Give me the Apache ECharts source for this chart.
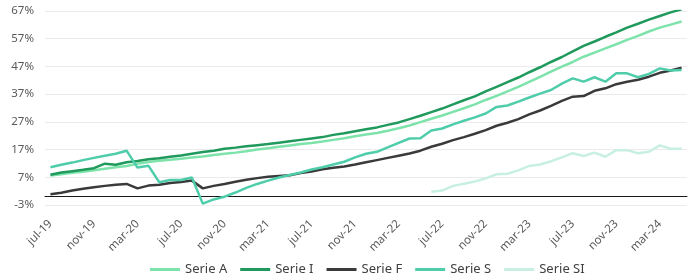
<!DOCTYPE html>
<html>
<head>
<meta charset="utf-8">
<script src="https://cdn.jsdelivr.net/npm/echarts@6/dist/echarts.min.js"></script>
<style>
html, body { margin: 0; padding: 0; background: #fff; }
#chart { width: 691px; height: 276px; }
</style>
</head>
<body>
<div id="chart"></div>
<script>
// monthly categories jul-19 .. may-24
const months = ['ene', 'feb', 'mar', 'abr', 'may', 'jun', 'jul', 'ago', 'sep', 'oct', 'nov', 'dic'];
const categories = [];
for (let y = 19; y <= 24; y++) {
    for (let m = 0; m < 12; m++) {
        if (y === 19 && m < 6) continue;
        if (y === 24 && m > 4) continue;
        categories.push(months[m] + '-' + y);
    }
}

const yTicks = [-3, 7, 17, 27, 37, 47, 57, 67];

const serieA = [7.6, 8.1, 8.6, 9.0, 9.5, 10.1, 10.6, 11.1, 11.9, 12.5, 13.0, 13.3, 13.7, 14.1, 14.5,
    15.0, 15.5, 15.9, 16.4, 17.0, 17.5, 18.0, 18.5, 19.0, 19.4, 19.9, 20.5, 21.1, 21.8, 22.4,
    23.0, 23.8, 24.7, 25.7, 26.9, 28.1, 29.3, 30.6, 31.9, 33.3, 34.9, 36.4, 38.0, 39.6, 41.4,
    43.2, 45.1, 46.9, 48.6, 50.5, 52.0, 53.5, 55.0, 56.6, 58.0, 59.6, 61.0, 62.1, 63.2];

const serieI = [7.9, 8.7, 9.2, 9.7, 10.3, 11.9, 11.5, 12.4, 12.9, 13.5, 13.9, 14.4, 14.9, 15.5, 16.1,
    16.6, 17.3, 17.7, 18.2, 18.6, 19.0, 19.5, 20.0, 20.5, 21.0, 21.5, 22.3, 22.9, 23.6, 24.3,
    25.0, 25.9, 26.8, 28.0, 29.2, 30.5, 31.8, 33.3, 34.8, 36.2, 38.0, 39.6, 41.3, 43.0, 44.9,
    46.7, 48.6, 50.4, 52.4, 54.4, 56.0, 57.7, 59.3, 61.0, 62.4, 63.9, 65.2, 66.5, 67.6];

const serieF = [0.9, 1.4, 2.2, 2.9, 3.4, 3.9, 4.3, 4.6, 3.0, 4.0, 4.3, 4.9, 5.3, 5.8, 3.0,
    3.9, 4.6, 5.4, 6.1, 6.7, 7.2, 7.5, 7.7, 8.5, 9.1, 9.9, 10.4, 10.9, 11.6, 12.4,
    13.2, 14.0, 14.8, 15.6, 16.6, 18.0, 19.1, 20.4, 21.5, 22.7, 24.0, 25.6, 26.7, 28.0, 29.7,
    31.1, 32.8, 34.6, 36.1, 36.3, 38.2, 39.1, 40.6, 41.5, 42.2, 43.3, 44.7, 45.5, 46.5];

const serieS = [10.6, 11.5, 12.3, 13.2, 14.0, 14.8, 15.5, 16.6, 10.5, 11.2, 5.2, 6.0, 6.0, 6.9, -2.5,
    -1.0, 0.0, 1.5, 3.2, 4.6, 5.8, 6.9, 7.8, 8.7, 9.8, 10.6, 11.6, 12.6, 14.2, 15.5,
    16.2, 17.8, 19.4, 21.0, 21.1, 23.9, 24.6, 26.1, 27.4, 28.6, 30.0, 32.4, 32.9, 34.3, 35.8,
    37.2, 38.5, 40.8, 42.7, 41.5, 43.1, 41.5, 44.5, 44.5, 43.1, 44.3, 46.3, 45.5, 45.7];

const serieSI = [null, null, null, null, null, null, null, null, null, null, null, null, null, null, null,
    null, null, null, null, null, null, null, null, null, null, null, null, null, null, null,
    null, null, null, null, null, 1.8, 2.2, 3.9, 4.7, 5.5, 6.6, 8.1, 8.3, 9.5, 11.1,
    11.6, 12.8, 14.2, 15.7, 14.7, 15.9, 14.4, 16.8, 16.8, 15.7, 16.2, 18.5, 17.3, 17.3];

const chart = echarts.init(document.getElementById('chart'));

function line(name, data, color) {
    return {
        name: name,
        type: 'line',
        data: data,
        symbol: 'none',
        showSymbol: false,
        lineStyle: { color: color, width: 2.5 },
        itemStyle: { color: color },
        emphasis: { disabled: true },
        animation: false
    };
}

chart.setOption({
    animation: false,
    textStyle: { fontFamily: 'Noto Sans' },
    grid: {
        left: 45,
        right: 4,
        top: 11,
        bottom: 71
    },
    legend: {
        top: 258,
        left: 145,
        icon: 'rect',
        itemWidth: 30,
        itemHeight: 3,
        itemGap: 13,
        textStyle: { color: '#404040', fontSize: 13, fontFamily: 'Noto Sans' },
        data: ['Serie A', 'Serie I', 'Serie F', 'Serie S', 'Serie SI']
    },
    xAxis: {
        type: 'category',
        data: categories,
        boundaryGap: true,
        axisLine: { onZero: true, lineStyle: { color: '#1a1a1a', width: 1 } },
        axisTick: { interval: 3, length: 4, lineStyle: { color: '#1a1a1a' } },
        axisLabel: {
            interval: 3,
            rotate: 45,
            margin: 17,
            color: '#595959',
            fontSize: 11.5,
            fontFamily: 'Noto Sans'
        },
        splitLine: { show: false }
    },
    yAxis: {
        type: 'value',
        min: yTicks[0],
        max: yTicks[yTicks.length - 1],
        interval: 10,
        axisLine: { show: false },
        axisTick: { show: false },
        axisLabel: {
            margin: 11,
            color: '#595959',
            fontSize: 11.5,
            fontFamily: 'Noto Sans',
            formatter: v => v + '%'
        },
        splitLine: { lineStyle: { color: '#ebebeb', width: 1 } }
    },
    series: [
        line('Serie A', serieA, '#7de3ab'),
        line('Serie I', serieI, '#1f9a5c'),
        line('Serie F', serieF, '#3a3a3a'),
        line('Serie S', serieS, '#4fcdab'),
        line('Serie SI', serieSI, '#c7f0e1')
    ]
});
</script>
</body>
</html>
